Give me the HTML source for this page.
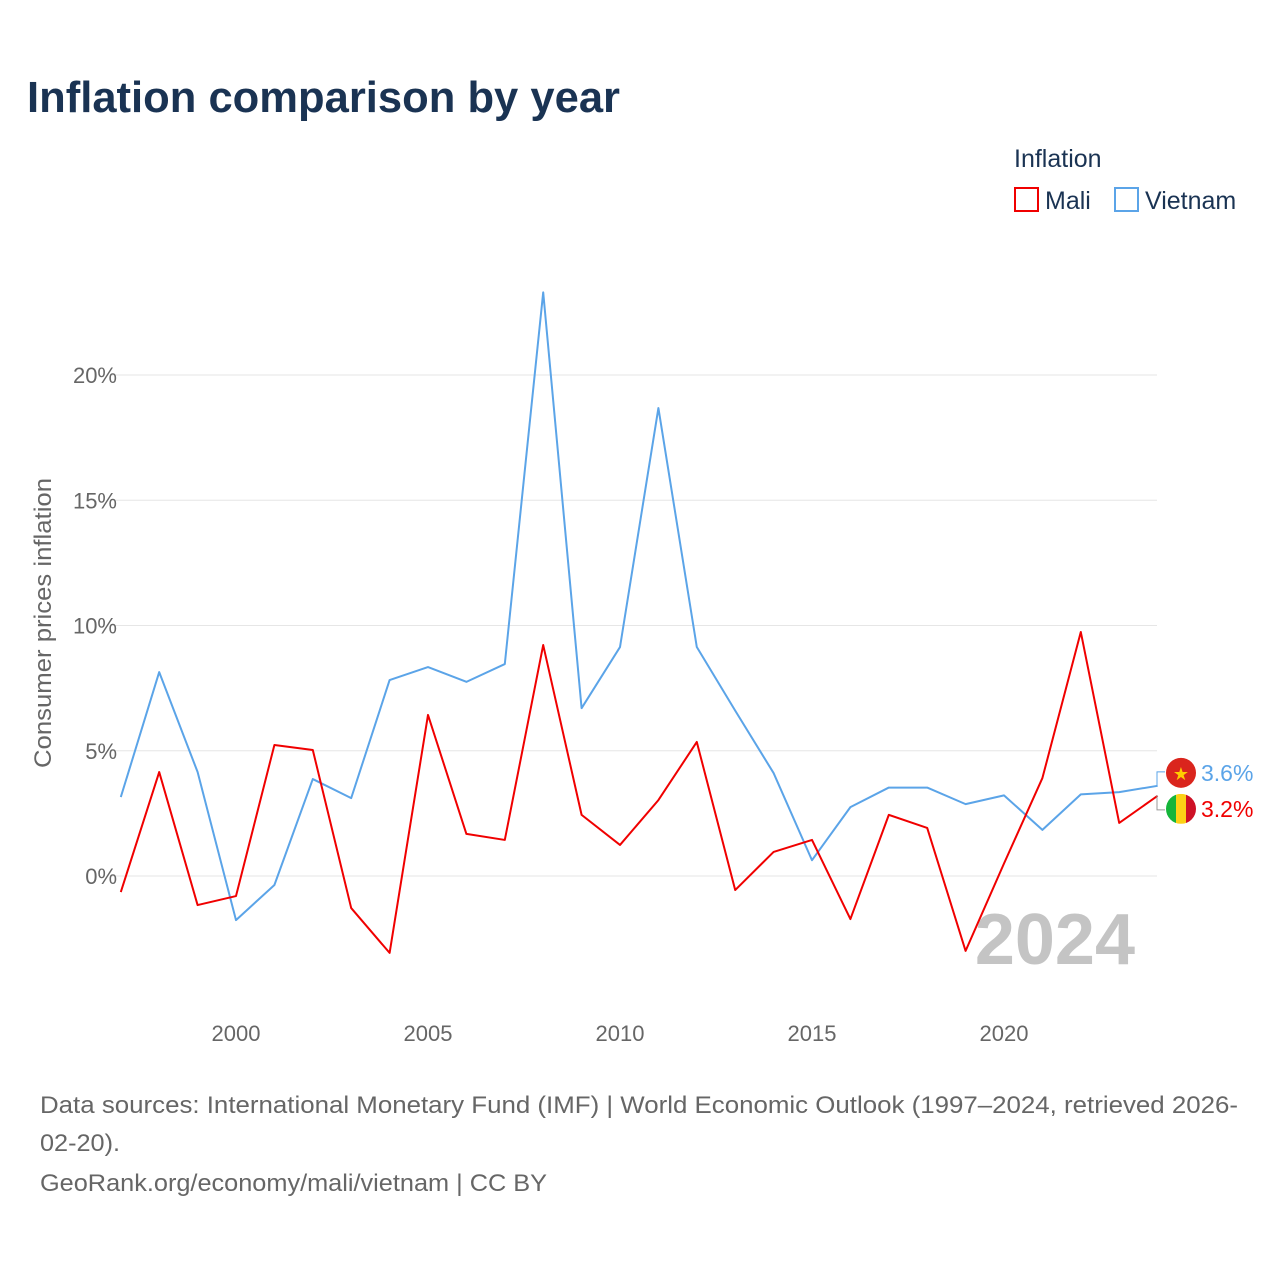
<!DOCTYPE html>
<html><head><meta charset="utf-8"><style>
body{margin:0;background:#fff;font-family:"Liberation Sans",sans-serif}
</style></head><body>
<svg width="1280" height="1280" viewBox="0 0 1280 1280" xmlns="http://www.w3.org/2000/svg">
<text x="27" y="112" font-size="44" font-weight="bold" fill="#1a3353" textLength="593" lengthAdjust="spacingAndGlyphs">Inflation comparison by year</text>
<text x="1014" y="167" font-size="25" fill="#1a3353">Inflation</text>
<g><rect x="1015" y="188" width="23" height="23" fill="none" stroke="#f00000" stroke-width="2"/><text x="1045" y="209" font-size="25" fill="#1a3353">Mali</text></g>
<g><rect x="1115" y="188" width="23" height="23" fill="none" stroke="#5ba4e8" stroke-width="2"/><text x="1145" y="209" font-size="25" fill="#1a3353">Vietnam</text></g>
<g id="grid"></g>
<g id="yticks"></g>
<g id="xticks"></g>
<text transform="translate(51,623) rotate(-90)" text-anchor="middle" font-size="24" fill="#666" textLength="290" lengthAdjust="spacingAndGlyphs">Consumer prices inflation</text>
<text x="1135" y="964" text-anchor="end" font-size="72" font-weight="bold" fill="#c4c4c4">2024</text>
<g id="series"></g>
<text x="40" y="1113" font-size="24" fill="#666" textLength="1198" lengthAdjust="spacingAndGlyphs">Data sources: International Monetary Fund (IMF) | World Economic Outlook (1997–2024, retrieved 2026-</text>
<text x="40" y="1151" font-size="24" fill="#666" textLength="80" lengthAdjust="spacingAndGlyphs">02-20).</text>
<text x="40" y="1191" font-size="24" fill="#666" textLength="507" lengthAdjust="spacingAndGlyphs">GeoRank.org/economy/mali/vietnam | CC BY</text>
</svg>
<script>
const years=[1997,1998,1999,2000,2001,2002,2003,2004,2005,2006,2007,2008,2009,2010,2011,2012,2013,2014,2015,2016,2017,2018,2019,2020,2021,2022,2023,2024];
const mali=[-0.64,4.15,-1.16,-0.8,5.23,5.03,-1.28,-3.07,6.43,1.68,1.44,9.22,2.44,1.24,3.03,5.35,-0.56,0.96,1.44,-1.72,2.44,1.92,-2.99,0.5,3.91,9.74,2.12,3.2];
const vietnam=[3.15,8.14,4.15,-1.76,-0.36,3.87,3.11,7.82,8.34,7.75,8.46,23.3,6.7,9.14,18.68,9.14,6.6,4.11,0.63,2.75,3.53,3.53,2.87,3.22,1.84,3.26,3.35,3.6];
const yTicks=[0,5,10,15,20];
const xTicks=[2000,2005,2010,2015,2020];
const NS="http://www.w3.org/2000/svg";
const xS=y=>236+(y-2000)*38.4;
const yS=v=>876-v*25.05;
function mk(t,a,p){const e=document.createElementNS(NS,t);for(const k in a)e.setAttribute(k,a[k]);p.appendChild(e);return e;}
const grid=document.getElementById('grid'),yt=document.getElementById('yticks'),xt=document.getElementById('xticks'),ser=document.getElementById('series');
yTicks.forEach(v=>{
 const l=mk('line',{x1:110,x2:1157,y1:yS(v),y2:yS(v),stroke:'#e6e6e6','stroke-width':1},grid);
 
 
 const t=mk('text',{x:117,y:yS(v)+8,'text-anchor':'end','font-size':22,fill:'#666'},yt);
 t.textContent=v+'%';
 
 
});
xTicks.forEach(y=>{
 const t=mk('text',{x:xS(y),y:1041,'text-anchor':'middle','font-size':22,fill:'#666'},xt);
 t.textContent=y;
 
 
});
function line(vals,col,name){
 const p=mk('polyline',{points:vals.map((v,i)=>xS(years[i])+','+yS(v)).join(' '),fill:'none',stroke:col,'stroke-width':2,'stroke-linejoin':'round'},ser);
 
 
}
line(vietnam,'#5ba4e8','vietnam-line');
line(mali,'#f00000','mali-line');
const n=years.length-1;
const vy=yS(vietnam[n]),my=yS(mali[n]);
const lv=Math.min(vy,my)-14,lm=Math.max(vy,my)+14;
mk('polyline',{points:`${xS(2024)},${vy} 1157,${vy} 1157,${lv} 1165,${lv}`,fill:'none',stroke:'#5ba4e8','stroke-width':1},ser);
mk('polyline',{points:`${xS(2024)},${my} 1157,${my} 1157,${lm} 1165,${lm}`,fill:'none',stroke:'#999','stroke-width':1},ser);
const fv=mk('g',{},ser);


mk('circle',{cx:1181,cy:lv+1,r:15,fill:'#da251d'},fv);
const st=mk('text',{x:1181,y:lv+8,'text-anchor':'middle','font-size':18,fill:'#ffcd00'},fv);st.textContent='★';
const fm=mk('g',{},ser);


mk('clipPath',{id:'mc'},fm);
mk('circle',{cx:1181,cy:lm-1,r:15},fm.querySelector('clipPath'));
const mg=mk('g',{'clip-path':'url(#mc)'},fm);
mk('rect',{x:1166,y:lm-16,width:10,height:30,fill:'#14b53a'},mg);
mk('rect',{x:1176,y:lm-16,width:10,height:30,fill:'#fcd116'},mg);
mk('rect',{x:1186,y:lm-16,width:10,height:30,fill:'#ce1126'},mg);
const tv=mk('text',{x:1201,y:lv+9,'font-size':23,fill:'#5ba4e8'},ser);tv.textContent=vietnam[n].toFixed(1)+'%';


const tm=mk('text',{x:1201,y:lm+7,'font-size':23,fill:'#f00000'},ser);tm.textContent=mali[n].toFixed(1)+'%';


</script>
</body></html>
